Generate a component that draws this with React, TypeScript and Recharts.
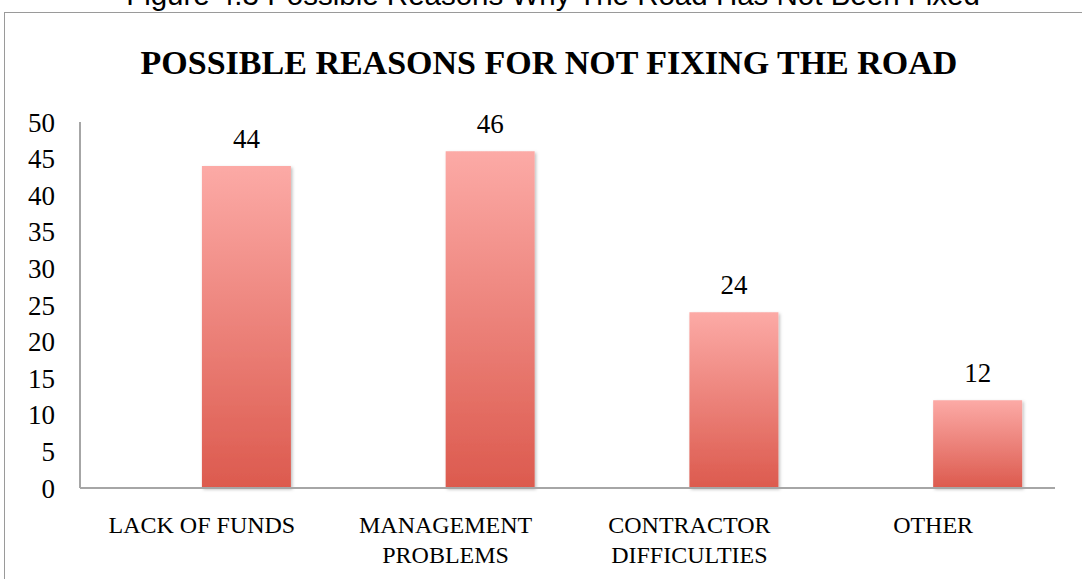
import { BarChart, Bar, XAxis, YAxis, LabelList } from 'recharts';

const categories = ['LACK OF FUNDS', 'MANAGEMENT\nPROBLEMS', 'CONTRACTOR\nDIFFICULTIES', 'OTHER'];
const blankSeries: (number | null)[] = [null, null, null, null];
const reasonCounts = [44, 46, 24, 12];
const yTicks = [0, 5, 10, 15, 20, 25, 30, 35, 40, 45, 50];

const chartData = categories.map((name, i) => ({
  name,
  blank: blankSeries[i],
  count: reasonCounts[i],
}));

const serif = '"Liberation Serif", "DejaVu Serif", serif';

function CategoryTick(props: any) {
  const { x, y, payload } = props;
  const lines = String(payload.value).split('\n');
  return (
    <text x={x} y={y} textAnchor="middle" fontFamily={serif} fontSize={24} fill="#000">
      {lines.map((line, i) => (
        <tspan key={i} x={x} dy={i === 0 ? 37 : 30}>
          {line}
        </tspan>
      ))}
    </text>
  );
}

export default function App() {
  return (
    <div style={{ position: 'absolute', left: 0, top: 0, width: 1082, height: 579, overflow: 'hidden', background: '#fff' }}>
      {/* caption cut off at the top of the page */}
      <div
        style={{
          position: 'absolute',
          left: 12,
          width: 1082,
          top: -21,
          textAlign: 'center',
          fontFamily: '"Liberation Sans", Arial, sans-serif',
          fontSize: 29.5,
          lineHeight: '32px',
          color: '#000',
          whiteSpace: 'nowrap',
        }}
      >
        Figure 4.3 Possible Reasons Why The Road Has Not Been Fixed
      </div>
      {/* chart frame */}
      <div
        style={{
          position: 'absolute',
          left: 4,
          top: 12,
          width: 1100,
          height: 600,
          border: '1.5px solid #9a9a9a',
          boxSizing: 'border-box',
        }}
      />
      <div
        style={{
          position: 'absolute',
          left: 8,
          width: 1082,
          top: 40,
          textAlign: 'center',
          fontFamily: serif,
          fontWeight: 'bold',
          fontSize: 34,
          lineHeight: '46px',
          color: '#000',
        }}
      >
        POSSIBLE REASONS FOR NOT FIXING THE ROAD
      </div>
      <div style={{ position: 'absolute', left: 0, top: 0 }}>
        <BarChart
          width={1082}
          height={579}
          data={chartData}
          margin={{ top: 122, right: 27, left: 0, bottom: 0 }}
          barCategoryGap="13.5%"
          barGap={0}
        >
          <defs>
            <linearGradient id="barFill" x1="0" y1="0" x2="0" y2="1">
              <stop offset="0%" stopColor="#fcaaa6" />
              <stop offset="100%" stopColor="#dc5a4e" />
            </linearGradient>
            <filter id="barShadow" x="-10%" y="-10%" width="130%" height="120%">
              <feDropShadow dx="1.5" dy="1.5" stdDeviation="1.5" floodColor="#000" floodOpacity="0.25" />
            </filter>
          </defs>
          <XAxis
            dataKey="name"
            axisLine={{ stroke: '#a6a6a6', strokeWidth: 2 }}
            tickLine={false}
            tick={<CategoryTick />}
            interval={0}
            height={91}
          />
          <YAxis
            domain={[0, 50]}
            ticks={yTicks}
            axisLine={{ stroke: '#a6a6a6', strokeWidth: 2 }}
            tickLine={false}
            tickSize={0}
            tickMargin={25}
            width={80}
            tick={{ fontFamily: serif, fontSize: 27, fill: '#000' }}
          />
          <Bar dataKey="blank" fill="url(#barFill)" isAnimationActive={false} />
          <Bar dataKey="count" fill="url(#barFill)" filter="url(#barShadow)" isAnimationActive={false}>
            <LabelList
              dataKey="count"
              position="top"
              offset={18}
              style={{ fontFamily: serif, fontSize: 27, fill: '#000' }}
            />
          </Bar>
        </BarChart>
      </div>
    </div>
  );
}
